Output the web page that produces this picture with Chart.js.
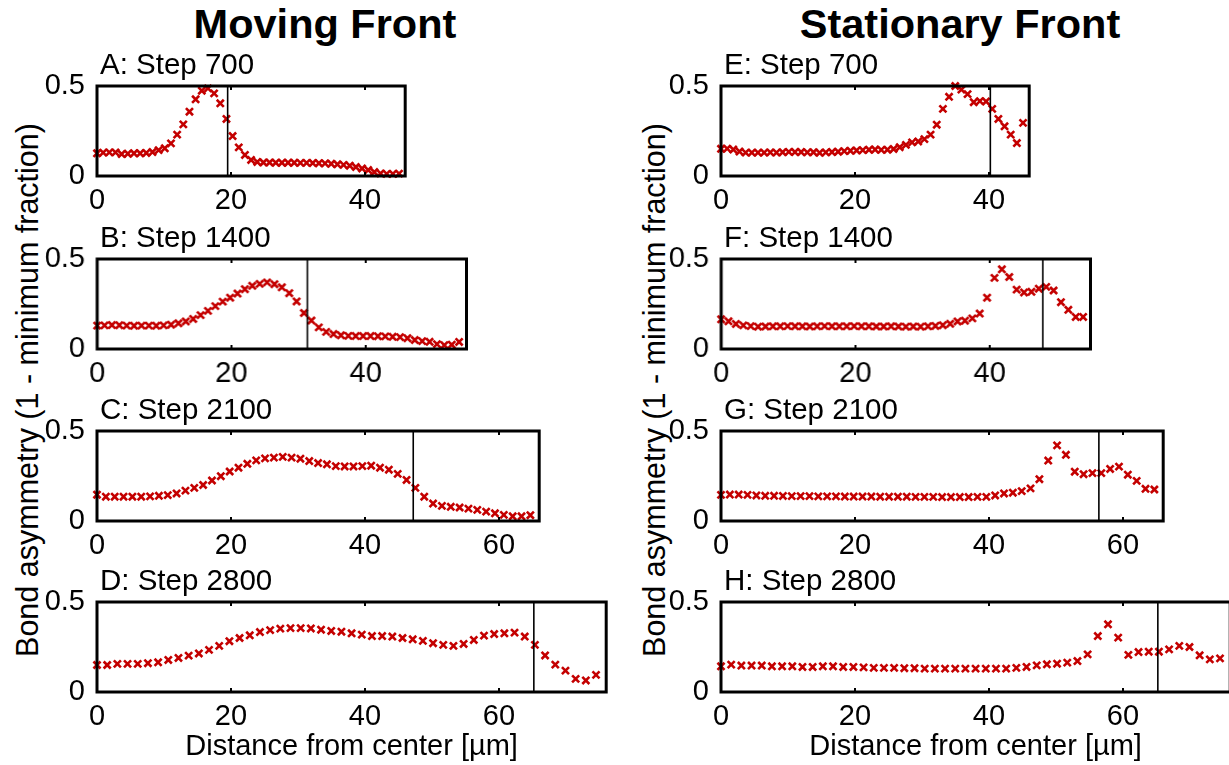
<!DOCTYPE html>
<html>
<head>
<meta charset="utf-8">
<script src="https://cdn.jsdelivr.net/npm/chart.js@4.4.1/dist/chart.umd.min.js"></script>
<style>
  html, body { margin:0; padding:0; background:#fff; }
  body { width:1229px; height:765px; position:relative; overflow:hidden;
         font-family:"Liberation Sans", Arial, Helvetica, sans-serif; color:#000; }
  .box { position:absolute; }
  .txt { position:absolute; white-space:nowrap; line-height:1; }
  .hdr { font-weight:bold; font-size:41.5px; transform:translateX(-50%); }
  .ttl { font-size:29.5px; }
  .ylab { font-size:30.5px; transform:translate(-50%,-50%) rotate(-90deg); }
  .xlab { font-size:29px; transform:translateX(-50%); }
</style>
</head>
<body>
<script>
// ---------------- data ----------------
const columnHeaders = ['Moving Front', 'Stationary Front'];
const panelTitles = ['A: Step 700', 'B: Step 1400', 'C: Step 2100', 'D: Step 2800',
                     'E: Step 700', 'F: Step 1400', 'G: Step 2100', 'H: Step 2800'];
const yAxisLabel = 'Bond asymmetry (1 - minimum fraction)';
const xAxisLabel = 'Distance from center [\u00b5m]';
const xTickValues = [0, 20, 40, 60];
const yTickValues = [0, 0.5];
const xMax = [46, 55, 66, 76, 46, 55, 66, 76];
const sampleSpacing = [0.92, 1.1, 1.32, 1.52, 0.92, 1.1, 1.32, 1.52];
const frontPosition = [19.5, 31.3, 47.2, 65.2, 40.2, 47.9, 56.4, 65.2];

const valsA = [0.126,0.13,0.131,0.131,0.122,0.124,0.126,0.126,0.128,0.133,
  0.144,0.154,0.181,0.23,0.287,0.357,0.426,0.474,0.487,0.459,
  0.404,0.317,0.222,0.159,0.117,0.089,0.078,0.075,0.075,0.074,
  0.074,0.074,0.074,0.073,0.073,0.072,0.071,0.07,0.068,0.065,
  0.062,0.057,0.05,0.042,0.033,0.022,0.014,0.012,0.012,0.013];
const valsB = [0.13,0.131,0.133,0.132,0.13,0.129,0.13,0.13,0.129,0.131,
  0.135,0.143,0.153,0.167,0.188,0.212,0.238,0.263,0.285,0.308,
  0.332,0.351,0.362,0.37,0.36,0.343,0.31,0.264,0.2,0.158,
  0.12,0.095,0.083,0.076,0.073,0.072,0.072,0.072,0.071,0.07,
  0.068,0.066,0.06,0.05,0.044,0.04,0.027,0.021,0.024,0.039];
const valsC = [0.146,0.135,0.135,0.135,0.135,0.135,0.137,0.14,0.144,0.153,
  0.169,0.184,0.2,0.225,0.249,0.275,0.296,0.318,0.337,0.348,
  0.352,0.356,0.352,0.346,0.333,0.322,0.315,0.305,0.303,0.303,
  0.305,0.307,0.296,0.285,0.262,0.228,0.184,0.135,0.097,0.084,
  0.079,0.075,0.069,0.062,0.052,0.043,0.034,0.026,0.026,0.032];
const valsD = [0.15,0.15,0.156,0.156,0.156,0.16,0.165,0.178,0.189,0.202,
  0.214,0.234,0.256,0.282,0.3,0.315,0.333,0.344,0.352,0.355,
  0.355,0.353,0.346,0.339,0.335,0.326,0.319,0.311,0.311,0.308,
  0.3,0.293,0.284,0.271,0.262,0.256,0.267,0.289,0.313,0.322,
  0.326,0.33,0.308,0.262,0.203,0.152,0.119,0.073,0.064,0.095];
const valsE = [0.151,0.152,0.147,0.136,0.13,0.13,0.13,0.13,0.131,0.13,
  0.132,0.134,0.133,0.133,0.131,0.132,0.129,0.131,0.133,0.135,
  0.138,0.14,0.142,0.144,0.146,0.147,0.145,0.146,0.15,0.16,
  0.173,0.187,0.192,0.205,0.23,0.285,0.373,0.44,0.5,0.48,
  0.455,0.41,0.416,0.414,0.373,0.317,0.276,0.23,0.183,0.295];
const valsF = [0.165,0.154,0.139,0.131,0.127,0.124,0.125,0.126,0.126,0.127,
  0.126,0.126,0.125,0.126,0.127,0.126,0.126,0.126,0.127,0.126,
  0.126,0.125,0.125,0.126,0.125,0.124,0.125,0.124,0.126,0.128,
  0.132,0.14,0.153,0.157,0.17,0.197,0.285,0.395,0.443,0.4,
  0.33,0.314,0.318,0.335,0.345,0.325,0.26,0.218,0.178,0.178];
const valsG = [0.145,0.147,0.147,0.145,0.142,0.14,0.14,0.139,0.138,0.138,
  0.138,0.137,0.137,0.137,0.136,0.136,0.136,0.136,0.135,0.135,
  0.135,0.135,0.134,0.134,0.134,0.133,0.133,0.133,0.133,0.134,
  0.134,0.142,0.153,0.157,0.166,0.181,0.232,0.336,0.42,0.368,
  0.274,0.26,0.266,0.266,0.289,0.302,0.257,0.223,0.179,0.175];
const valsH = [0.143,0.152,0.147,0.147,0.147,0.143,0.143,0.143,0.139,0.139,
  0.143,0.143,0.139,0.139,0.137,0.134,0.134,0.134,0.132,0.132,
  0.13,0.13,0.13,0.13,0.13,0.13,0.13,0.13,0.13,0.134,
  0.139,0.148,0.154,0.157,0.163,0.172,0.209,0.311,0.376,0.302,
  0.206,0.222,0.224,0.224,0.237,0.256,0.25,0.204,0.181,0.187];
const panelValues = [valsA, valsB, valsC, valsD, valsE, valsF, valsG, valsH];

// ---------------- layout ----------------
const PX_PER_UNIT = 6.7;
const colLeft = [97, 721];
const rowTop = [86, 259, 431, 602];
const FRAME_H = 90;
const YAXIS_W = 70, XAXIS_H = 42, PAD_T = 22, PAD_R = 14;
const MARK = '#c40000';
const FONT = '"Liberation Sans", Arial, Helvetica, sans-serif';

function addText(cls, text, left, top) {
  const d = document.createElement('div');
  d.className = 'txt ' + cls;
  d.textContent = text;
  d.style.left = left + 'px';
  d.style.top = top + 'px';
  document.body.appendChild(d);
  return d;
}

// column headers
addText('hdr', columnHeaders[0], 325, 3);
addText('hdr', columnHeaders[1], 960, 3);
// y-axis labels
addText('ylab', yAxisLabel, 27, 390);
addText('ylab', yAxisLabel, 654, 390);

const framePlugin = {
  id: 'frame',
  afterDatasetsDraw(chart) {
    const a = chart.chartArea, ctx = chart.ctx, xs = chart.scales.x;
    ctx.save();
    ctx.strokeStyle = '#000';
    ctx.lineWidth = 2;
    xs.ticks.forEach(t => {
      if (t.value <= xs.min || t.value >= xs.max) return;
      const px = xs.getPixelForValue(t.value);
      ctx.beginPath();
      ctx.moveTo(px, a.top); ctx.lineTo(px, a.top + 4);
      ctx.moveTo(px, a.bottom); ctx.lineTo(px, a.bottom - 4);
      ctx.stroke();
    });
    ctx.lineWidth = 3;
    ctx.strokeRect(a.left, a.top, a.right - a.left, a.bottom - a.top);
    ctx.restore();
  }
};

for (let p = 0; p < 8; p++) {
  const col = p < 4 ? 0 : 1, row = p % 4;
  const fl = colLeft[col], ft = rowTop[row];
  const fw = xMax[p] * PX_PER_UNIT;
  const div = document.createElement('div');
  div.className = 'box';
  const W = YAXIS_W + fw + PAD_R, H = PAD_T + FRAME_H + XAXIS_H;
  div.style.left = (fl - YAXIS_W) + 'px';
  div.style.top = (ft - PAD_T) + 'px';
  div.style.width = W + 'px';
  div.style.height = H + 'px';
  const cv = document.createElement('canvas');
  div.appendChild(cv);
  document.body.appendChild(div);

  addText('ttl', panelTitles[p], fl + 3, ft - 12 - 25);
  if (row === 3) addText('xlab', xAxisLabel, fl + fw / 2, 731);

  const pts = panelValues[p].map((v, i) => ({ x: i * sampleSpacing[p], y: v }));
  const front = [{ x: frontPosition[p], y: yTickValues[0] }, { x: frontPosition[p], y: yTickValues[1] }];

  new Chart(cv, {
    type: 'scatter',
    data: {
      datasets: [
        { data: front, showLine: true, borderColor: '#000', borderWidth: 1.6,
          pointRadius: 0, fill: false, clip: false },
        { data: pts, showLine: false, pointStyle: 'crossRot', pointRadius: 5,
          pointBorderWidth: 2.6, borderColor: MARK, backgroundColor: MARK, clip: false }
      ]
    },
    options: {
      responsive: true, maintainAspectRatio: false, animation: false,
      layout: { padding: { left: 0, top: PAD_T, right: PAD_R, bottom: 0 } },
      plugins: { legend: { display: false }, tooltip: { enabled: false }, title: { display: false } },
      scales: {
        x: {
          type: 'linear', min: 0, max: xMax[p],
          grid: { display: false }, border: { display: false },
          ticks: { font: { family: FONT, size: 29 }, color: '#000', padding: 0,
                   autoSkip: false, maxRotation: 0 },
          afterBuildTicks: s => { s.ticks = xTickValues.filter(v => v <= s.max).map(v => ({ value: v })); },
          afterFit: s => { s.height = XAXIS_H; }
        },
        y: {
          min: 0, max: 0.5,
          grid: { display: false }, border: { display: false },
          ticks: { font: { family: FONT, size: 29 }, color: '#000', padding: 4, autoSkip: false },
          afterBuildTicks: s => { s.ticks = yTickValues.map(v => ({ value: v })); },
          afterFit: s => { s.width = YAXIS_W; }
        }
      }
    },
    plugins: [framePlugin]
  });
}
</script>
</body>
</html>
